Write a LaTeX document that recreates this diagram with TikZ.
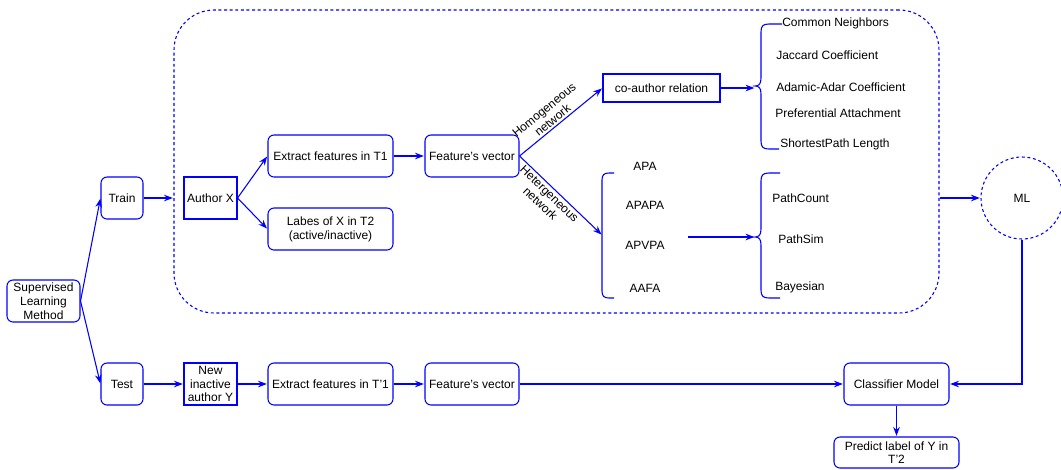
\documentclass[tikz,border=0pt]{standalone}
\usepackage{fontspec}
\setmainfont{Liberation Sans}
\usetikzlibrary{arrows.meta, positioning, calc}

\begin{document}
\begin{tikzpicture}[
    x=0.75pt, y=-0.75pt,
    >=Stealth,
    font=\fontsize{9}{10.5}\selectfont,
    % Styles
    roundbox/.style={rectangle, draw=blue, rounded corners=4.5pt, line width=0.8pt, align=center, inner sep=1pt, minimum height=31.5pt},
    plainbox/.style={rectangle, draw=blue, line width=0.8pt, align=center, inner sep=1pt},
    groupbox/.style={rectangle, draw=blue, rounded corners=30pt, line width=0.8pt, dash pattern=on 2.2pt off 2pt, minimum width=573.75pt, minimum height=227.25pt},
    mlcircle/.style={circle, draw=blue, line width=0.8pt, dash pattern=on 2.2pt off 2pt, minimum size=61.5pt},
    itemtext/.style={inner sep=0pt, anchor=west},
    metatext/.style={inner sep=0pt},
    bracestyle/.style={draw=blue, line width=0.8pt},
    arrowstyle/.style={->, draw=blue, line width=0.8pt, shorten >=0.5pt},
    netlabel/.style={sloped, align=center, font=\fontsize{9}{10}\selectfont, inner sep=1.5pt},
]
\useasboundingbox (0,0) rectangle (1061,469);

% === SUPERVISED METHOD ===
\node[roundbox, minimum width=54.75pt] (slm) at (43.5,301) {Supervised\\Learning\\Method};
\node[roundbox, minimum width=31.5pt] (train) at (122,198) {Train};
\node[roundbox, minimum width=31.5pt] (test) at (122,384) {Test};
\draw[arrowstyle] (slm.east) -- (train.west);
\draw[arrowstyle] (slm.east) -- (test.west);

% === TRAINING GROUP ===
\node[groupbox] (grp) at (556.5,161.5) {};
\draw[arrowstyle] (train) -- (train -| grp.west);

\node[plainbox, minimum width=39.75pt, minimum height=31.5pt] (authx) at (210.5,198) {Author X};
\node[roundbox, minimum width=93.75pt] (ext1) at (330.5,156) {Extract features in T1};
\node[roundbox, minimum width=93.75pt] (labes) at (330.5,229) {Labes of X in T2\\(active/inactive)};
\node[roundbox, minimum width=70.5pt] (fv1) at (472,156) {Feature's vector};
\draw[arrowstyle] (authx.east) -- (ext1.west);
\draw[arrowstyle] (authx.east) -- (labes.west);
\draw[arrowstyle] (ext1) -- (fv1);

% === HOMOGENEOUS BRANCH ===
\node[plainbox, minimum width=87.75pt, minimum height=21pt] (coauth) at (661.5,88) {co-author relation};
\draw[arrowstyle] (fv1.east) -- node[netlabel, above, pos=0.45] {Homogeneous\\network} (coauth.west);

\coordinate (homtip) at (755,86);
\draw[bracestyle] (782,24) -- (769,24) .. controls (763,24) and (761,26) .. (761,32) -- (761,78)
    .. controls (761,84) and (759,86) .. (homtip) .. controls (759,86) and (761,88) .. (761,94)
    -- (761,141) .. controls (761,147) and (763,149) .. (769,149) -- (779,149);
\draw[arrowstyle] (coauth.east) -- (coauth.east -| homtip);

\node[itemtext] (cn) at (782,23) {Common Neighbors};
\node[itemtext] (jc) at (776,55) {Jaccard Coefficient};
\node[itemtext] (aa) at (776,87) {Adamic-Adar Coefficient};
\node[itemtext] (pa) at (775,113) {Preferential Attachment};
\node[itemtext] (sp) at (780,144) {ShortestPath Length};

% === HETEROGENEOUS BRANCH ===
\coordinate (hettip) at (602,235);
\draw[bracestyle] (614,173) -- (609,173) .. controls (604,173) and (602,175) .. (602,180) -- (602,291)
    .. controls (602,296) and (604,298) .. (609,298) -- (614,298);
\draw[arrowstyle] (fv1.east) -- node[netlabel, below, pos=0.42] {Hetergeneous\\network} (hettip);

\node[metatext] (apa) at (645,166) {APA};
\node[metatext] (apapa) at (645,205) {APAPA};
\node[metatext] (apvpa) at (645,245) {APVPA};
\node[metatext] (aafa) at (645,288) {AAFA};

\coordinate (metaout) at (688,237);
\coordinate (mettip) at (755,237);
\draw[bracestyle] (780,173) -- (769,173) .. controls (763,173) and (761,175) .. (761,181) -- (761,229)
    .. controls (761,235) and (759,237) .. (mettip) .. controls (759,237) and (761,239) .. (761,245)
    -- (761,290) .. controls (761,296) and (763,298) .. (769,298) -- (780,298);
\draw[arrowstyle] (metaout) -- (mettip);

\node[itemtext] (pc) at (772,198) {PathCount};
\node[itemtext] (ps) at (778,239) {PathSim};
\node[itemtext] (bay) at (775,287) {Bayesian};

% === ML ===
\node[mlcircle] (ml) at (1022,198) {ML};
\draw[arrowstyle] (grp.east |- ml) -- (ml);

% === TEST ROW ===
\node[plainbox, minimum width=39.75pt, minimum height=31.5pt, inner sep=0pt, font=\fontsize{9}{10}\selectfont] (authy) at (210.5,384) {New\\inactive\\author Y};
\node[roundbox, minimum width=93.75pt] (ext2) at (330.5,384) {Extract features in T'1};
\node[roundbox, minimum width=70.5pt] (fv2) at (472,384) {Feature's vector};
\node[roundbox, minimum width=78.75pt] (clf) at (896.5,384) {Classifier Model};
\node[roundbox, minimum width=93.75pt, minimum height=23.25pt, inner sep=0pt, font=\fontsize{9}{10}\selectfont] (pred) at (896.5,452.5) {Predict label of Y in\\T'2};
\draw[arrowstyle] (test) -- (authy);
\draw[arrowstyle] (authy) -- (ext2);
\draw[arrowstyle] (ext2) -- (fv2);
\draw[arrowstyle] (fv2) -- (clf);
\draw[arrowstyle] (ml.south) |- (clf.east);
\draw[arrowstyle] (clf) -- (pred);

\end{tikzpicture}
\end{document}
